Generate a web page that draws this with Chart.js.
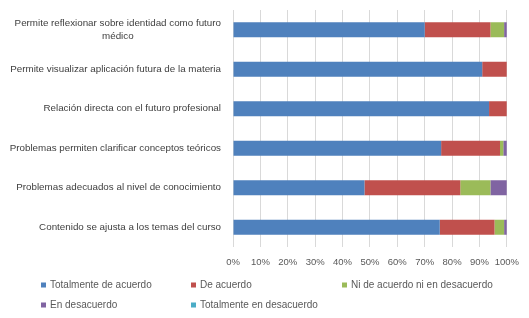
<!DOCTYPE html>
<html>
<head>
<meta charset="utf-8">
<script src="https://cdn.jsdelivr.net/npm/chart.js@4/dist/chart.umd.min.js"></script>
<style>
html,body{margin:0;padding:0;background:#fff;}
#wrap{position:relative;width:529px;height:318px;}
</style>
</head>
<body>
<div id="wrap"><canvas id="c" width="529" height="318"></canvas></div>
<script>
const categories = [
  ["Permite reflexionar sobre identidad como futuro", "médico"],
  "Permite visualizar aplicación futura de la materia",
  "Relación directa con el futuro profesional",
  "Problemas permiten clarificar conceptos teóricos",
  "Problemas adecuados al nivel de conocimiento",
  "Contenido se ajusta a los temas del curso"
];
const seriesNames = ["Totalmente de acuerdo", "De acuerdo", "Ni de acuerdo ni en desacuerdo", "En desacuerdo", "Totalmente en desacuerdo"];
const totalmenteDeAcuerdo = [70, 91, 93.5, 76, 48, 75.5];
const deAcuerdo = [24, 9, 6.5, 21.5, 35, 20];
const niDeAcuerdo = [5, 0, 0, 1.2, 11, 3.5];
const enDesacuerdo = [1, 0, 0, 1.3, 6, 1];
const totalmenteEnDesacuerdo = [0, 0, 0, 0, 0, 0];
const xTicks = [0, 10, 20, 30, 40, 50, 60, 70, 80, 90, 100];

const colors = ["#4F81BD", "#C0504D", "#9BBB59", "#8064A2", "#4BACC6"];
const seriesValues = [totalmenteDeAcuerdo, deAcuerdo, niDeAcuerdo, enDesacuerdo, totalmenteEnDesacuerdo];
const FONT = "'Liberation Sans', Arial, sans-serif";

const yLabelPlugin = {
  id: 'yLabels',
  afterDraw(chart) {
    const ctx = chart.ctx;
    const y = chart.scales.y;
    ctx.save();
    ctx.font = "9.8px " + FONT;
    ctx.fillStyle = "#404040";
    ctx.textBaseline = "middle";
    const right = 221;
    const lh = 13;
    categories.forEach((lab, i) => {
      const lines = Array.isArray(lab) ? lab : [lab];
      const cy = y.getPixelForValue(i);
      const widths = lines.map(l => ctx.measureText(l).width);
      const maxW = Math.max(...widths);
      const center = right - maxW / 2;
      const top = cy - (lines.length - 1) * lh / 2 + (lines.length > 1 ? 0.5 : 0);
      lines.forEach((l, k) => {
        ctx.textAlign = "center";
        ctx.fillText(l, center, top + k * lh);
      });
    });
    ctx.restore();
  }
};

const legendPlugin = {
  id: 'gridLegend',
  afterDraw(chart) {
    const ctx = chart.ctx;
    ctx.save();
    ctx.font = "10px " + FONT;
    ctx.textBaseline = "middle";
    ctx.textAlign = "left";
    const cols = [41, 191, 342];
    const rows = [285, 305];
    chart.data.datasets.forEach((ds, i) => {
      const x = cols[i % 3];
      const yy = rows[Math.floor(i / 3)];
      ctx.fillStyle = ds.backgroundColor;
      ctx.fillRect(x, yy - 2.5, 5, 5);
      ctx.fillStyle = "#595959";
      ctx.fillText(ds.label, x + 9, yy);
    });
    ctx.restore();
  }
};

new Chart(document.getElementById('c'), {
  type: 'bar',
  data: {
    labels: categories,
    datasets: seriesNames.map((n, i) => ({
      label: n,
      data: seriesValues[i],
      backgroundColor: colors[i],
      borderWidth: 0,
      categoryPercentage: 1,
      barPercentage: 0.38
    }))
  },
  options: {
    indexAxis: 'y',
    responsive: false,
    animation: false,
    layout: { padding: { top: 10, right: 22, left: 0, bottom: 0 } },
    plugins: { legend: { display: false }, tooltip: { enabled: false } },
    scales: {
      x: {
        stacked: true,
        min: 0, max: 100,
        afterBuildTicks: s => { s.ticks = xTicks.map(v => ({ value: v })); },
        afterFit: s => { s.height = 71; },
        grid: { color: "#D9D9D9", drawTicks: false, lineWidth: 1 },
        border: { display: false },
        ticks: {
          padding: 10,
          maxRotation: 0,
          minRotation: 0,
          autoSkip: false,
          color: "#595959",
          font: { family: FONT, size: 9.5 },
          callback: v => v + "%"
        }
      },
      y: {
        stacked: true,
        afterFit: s => { s.width = 233; },
        grid: { display: false },
        border: { display: false },
        ticks: { display: false }
      }
    }
  },
  plugins: [yLabelPlugin, legendPlugin]
});
</script>
</body>
</html>
